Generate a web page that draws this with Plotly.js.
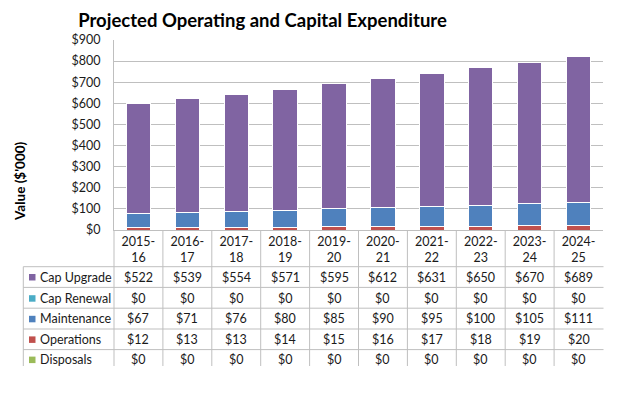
<!DOCTYPE html>
<html>
<head>
<meta charset="utf-8">
<script src="https://cdn.plot.ly/plotly-3.0.1.min.js"></script>
<style>html,body{margin:0;padding:0;background:#fff;}#chart{width:624px;height:397px;}text{font-variant-ligatures:none;}</style>
</head>
<body>
<div id="chart"></div>
<script>
// ---- data ----
const categories = ['2015-16','2016-17','2017-18','2018-19','2019-20','2020-21','2021-22','2022-23','2023-24','2024-25'];
const capUpgrade  = [522, 539, 554, 571, 595, 612, 631, 650, 670, 689];
const capRenewal  = [0, 0, 0, 0, 0, 0, 0, 0, 0, 0];
const maintenance = [67, 71, 76, 80, 85, 90, 95, 100, 105, 111];
const operations  = [12, 13, 13, 14, 15, 16, 17, 18, 19, 20];
const disposals   = [0, 0, 0, 0, 0, 0, 0, 0, 0, 0];
const seriesNames = ['Cap Upgrade', 'Cap Renewal', 'Maintenance', 'Operations', 'Disposals'];
const yTickVals = [0, 100, 200, 300, 400, 500, 600, 700, 800, 900];

// ---- styling ----
const colors = {
  'Cap Upgrade': '#8064A2',
  'Cap Renewal': '#4BACC6',
  'Maintenance': '#4F81BD',
  'Operations':  '#C0504D',
  'Disposals':   '#9BBB59'
};
const seriesData = {
  'Cap Upgrade': capUpgrade,
  'Cap Renewal': capRenewal,
  'Maintenance': maintenance,
  'Operations': operations,
  'Disposals': disposals
};
const FONT = 'Lato, "Open Sans", sans-serif';
const W = 624, H = 397;
const L = 114, R = 603, T = 40, B = 230;
const px = x => (x - L) / (R - L);
const py = y => (B - y) / (B - T);
const gridCol = '#BFBFBF';

// stacking bottom -> top
const stackOrder = ['Disposals', 'Operations', 'Maintenance', 'Cap Renewal', 'Cap Upgrade'];
const traces = stackOrder.map(name => ({
  type: 'bar',
  name: name,
  x: categories,
  y: seriesData[name],
  marker: { color: colors[name], line: { color: '#FFFFFF', width: 1 } },
  showlegend: false,
  hoverinfo: 'skip'
}));

// table geometry
const rowLines = [266.7, 287.4, 308.2, 329.0, 349.6];
const rowCenters = [277.0, 298.2, 318.8, 339.4, 359.6];
const tableBottom = 366;
const tableLeft = 23.3;

const shapes = [];
rowLines.forEach(y => shapes.push({
  type: 'line', xref: 'paper', yref: 'paper',
  x0: px(tableLeft), x1: px(R + 0.5), y0: py(y), y1: py(y),
  line: { color: gridCol, width: 1 }
}));
shapes.push({
  type: 'line', xref: 'paper', yref: 'paper',
  x0: px(tableLeft), x1: px(tableLeft), y0: py(rowLines[0]), y1: py(tableBottom),
  line: { color: gridCol, width: 1 }
});
for (let k = 0; k < categories.length; k++) {
  shapes.push({
    type: 'line', xref: 'paper', yref: 'paper',
    x0: k / categories.length, x1: k / categories.length, y0: 0, y1: py(tableBottom),
    line: { color: gridCol, width: 1 }
  });
}
// legend keys
seriesNames.forEach((name, i) => {
  const c = rowCenters[i];
  shapes.push({
    type: 'rect', xref: 'paper', yref: 'paper',
    x0: px(29), x1: px(35.5), y0: py(c + 3.5), y1: py(c - 3),
    fillcolor: colors[name], line: { width: 0 }
  });
});

const annotations = [];
seriesNames.forEach((name, i) => {
  annotations.push({
    xref: 'paper', yref: 'paper', x: px(37.5), y: py(rowCenters[i]),
    xanchor: 'left', yanchor: 'middle', showarrow: false,
    text: name, font: { family: FONT, size: 12.5, color: '#1a1a1a' }
  });
  seriesData[name].forEach((v, j) => {
    annotations.push({
      xref: 'x', yref: 'paper', x: j, y: py(rowCenters[i]),
      xanchor: 'center', yanchor: 'middle', showarrow: false,
      text: '$' + v, font: { family: FONT, size: 12.5, color: '#1a1a1a' }
    });
  });
});
annotations.push({
  xref: 'paper', yref: 'paper', x: px(20), y: py(181),
  xanchor: 'center', yanchor: 'middle', showarrow: false, textangle: -90,
  text: "Value ($'000)", font: { family: FONT, size: 13.5, color: '#000', weight: 'bold' }
});

const layout = {
  width: W, height: H,
  margin: { l: L, r: W - R, t: T, b: H - B, pad: 0 },
  paper_bgcolor: '#FFFFFF', plot_bgcolor: '#FFFFFF',
  barmode: 'stack', bargap: 0.5,
  showlegend: false,
  title: {
    text: 'Projected Operating and Capital Expenditure',
    font: { family: FONT, size: 18.5, color: '#000', weight: 'bold' },
    x: 262.5 / W, xanchor: 'center', xref: 'container',
    y: 1 - 20.5 / H, yanchor: 'middle', yref: 'container'
  },
  xaxis: {
    type: 'category',
    tickvals: categories,
    ticktext: categories.map(c => c.replace('-', '-<br>')),
    tickfont: { family: FONT, size: 12.5, color: '#1a1a1a' },
    showgrid: false, showline: true, linecolor: gridCol, linewidth: 1,
    ticks: '', zeroline: false, fixedrange: true
  },
  yaxis: {
    range: [0, 900],
    tickvals: yTickVals,
    ticktext: yTickVals.map(v => '$' + v),
    tickfont: { family: FONT, size: 12.5, color: '#1a1a1a' },
    showgrid: true, gridcolor: gridCol, gridwidth: 1,
    showline: true, linecolor: gridCol, linewidth: 1,
    mirror: false, zeroline: false, ticks: '',
    ticklabelstandoff: 10, fixedrange: true
  },
  shapes: shapes,
  annotations: annotations
};

Plotly.newPlot('chart', traces, layout, { displayModeBar: false, staticPlot: true });
</script>
</body>
</html>
